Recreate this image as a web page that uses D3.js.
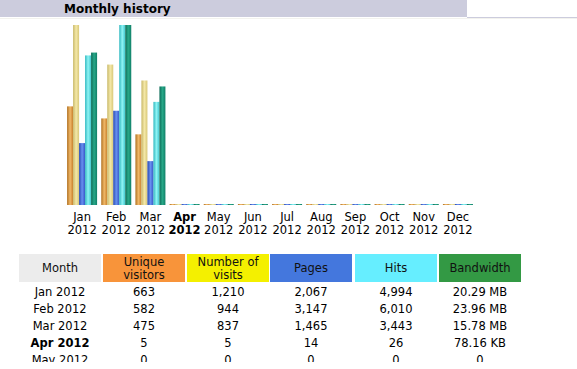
<!DOCTYPE html>
<html><head><meta charset="utf-8">
<script src="https://cdn.jsdelivr.net/npm/d3@7/dist/d3.min.js"></script>
<style>
html,body{margin:0;padding:0;background:#fff;overflow:hidden;}
svg{display:block;}
</style></head>
<body>
<script>
const months = ["Jan","Feb","Mar","Apr","May","Jun","Jul","Aug","Sep","Oct","Nov","Dec"];
const year = "2012";
const currentMonth = "Apr";
const uniqueVisitors = [663,582,475,5,0,0,0,0,0,0,0,0];
const visits = [1210,944,837,5,0,0,0,0,0,0,0,0];
const pages = [2067,3147,1465,14,0,0,0,0,0,0,0,0];
const hits = [4994,6010,3443,26,0,0,0,0,0,0,0,0];
const bandwidthMB = [20.29,23.96,15.78,78.16/1024,0,0,0,0,0,0,0,0];
const headers = ["Month","Unique|visitors","Number of|visits","Pages","Hits","Bandwidth"];
const tableRows = 5;

const W = 577, H = 369;
const svg = d3.select("body").append("svg").attr("width", W).attr("height", H);
const font = "'DejaVu Sans', Verdana, sans-serif";

// title band
svg.append("rect").attr("x",0).attr("y",0).attr("width",467).attr("height",17).attr("fill","#ccccdd");
svg.append("line").attr("x1",467).attr("x2",577).attr("y1",17.5).attr("y2",17.5).attr("stroke","#ccccdd");
svg.append("line").attr("x1",0).attr("x2",577).attr("y1",18.5).attr("y2",18.5).attr("stroke","#f2f2ee");
svg.append("text").attr("x",64).attr("y",13).attr("font-family",font).attr("font-weight","bold")
  .attr("font-size","12px").attr("fill","#000").text("Monthly history");

// gradients
const defs = svg.append("defs");
const gradColors = {
  u:["#b07020","#f0b868","#c8802c"],
  v:["#c8b868","#f4e8a8","#d8c878"],
  p:["#2848b0","#6890f0","#3858c8"],
  h:["#30b8c0","#90f4f4","#40c8d0"],
  k:["#0c6c58","#28a888","#108068"]
};
Object.entries(gradColors).forEach(([k,c])=>{
  const g = defs.append("linearGradient").attr("id","g"+k).attr("x1","0%").attr("x2","100%").attr("y1","0%").attr("y2","0%");
  g.append("stop").attr("offset","0%").attr("stop-color",c[0]);
  g.append("stop").attr("offset","50%").attr("stop-color",c[1]);
  g.append("stop").attr("offset","100%").attr("stop-color",c[2]);
});
defs.append("clipPath").attr("id","tclip").append("rect").attr("x",0).attr("y",0).attr("width",W).attr("height",362);

const x = d3.scaleBand().domain(months).range([65, 475]).padding(0);
const bottom = 205, maxH = 180;
const yVis = d3.scaleLinear().domain([0, d3.max(visits.concat(uniqueVisitors))]).range([0, maxH]);
const yHits = d3.scaleLinear().domain([0, d3.max(hits.concat(pages))]).range([0, maxH]);
const yBw = d3.scaleLinear().domain([0, d3.max(bandwidthMB)]).range([0, maxH]);

const series = [
  {key:"u", vals:uniqueVisitors, s:yVis},
  {key:"v", vals:visits, s:yVis},
  {key:"p", vals:pages, s:yHits},
  {key:"h", vals:hits, s:yHits},
  {key:"k", vals:bandwidthMB, s:yBw}
];
const barW = 6;
const sub = d3.scaleBand().domain(series.map(d=>d.key)).range([0, barW*series.length]);
series.forEach(se=>{
  svg.append("g").selectAll("rect").data(months).join("rect")
    .attr("x",(m)=>x(m)+(x.bandwidth()-barW*series.length)/2+sub(se.key))
    .attr("width",barW)
    .attr("y",(m,i)=>bottom-Math.max(1,se.s(se.vals[i])))
    .attr("height",(m,i)=>Math.max(1,se.s(se.vals[i])))
    .attr("fill","url(#g"+se.key+")");
});

// month labels
const lab = svg.append("g").attr("font-family",font).attr("font-size","11.5px").attr("fill","#000").attr("text-anchor","middle");
months.forEach(m=>{
  const cx = x(m)+x.bandwidth()/2;
  const bold = m===currentMonth ? "bold" : "normal";
  lab.append("text").attr("x",cx).attr("y",221).attr("font-weight",bold).text(m);
  lab.append("text").attr("x",cx).attr("y",234).attr("font-weight",bold).text(year);
});

// table
const colX = [19,103,187,270,355,439];
const colW = 82;
const headBg = ["#ececec","#f8943a","#f4f000","#4477dd","#66eeff","#339944"];
const tg = svg.append("g").attr("font-family",font).attr("font-size","11.5px").attr("text-anchor","middle").attr("clip-path","url(#tclip)");
headers.forEach((h,i)=>{
  tg.append("rect").attr("x",colX[i]).attr("y",254).attr("width",colW).attr("height",28).attr("fill",headBg[i]);
  const lines = h.split("|");
  lines.forEach((l,j)=>{
    const yy = lines.length===1 ? 272 : 266 + j*13;
    tg.append("text").attr("x",colX[i]+colW/2).attr("y",yy).attr("fill","#111").text(l);
  });
});
const fmt = d3.format(",");
function fmtBw(v){
  if (v===0) return "0";
  if (v<1) return (v*1024).toFixed(2)+" KB";
  return v.toFixed(2)+" MB";
}
const rowY = [296,313,330,347,364];
for (let r=0;r<tableRows;r++){
  const bold = months[r]===currentMonth ? "bold" : "normal";
  const cells = [months[r]+" "+year, fmt(uniqueVisitors[r]), fmt(visits[r]), fmt(pages[r]), fmt(hits[r]), fmtBw(bandwidthMB[r])];
  cells.forEach((c,i)=>{
    tg.append("text").attr("x",colX[i]+colW/2).attr("y",rowY[r]).attr("fill","#000")
      .attr("font-weight", i===0?bold:"normal").text(c);
  });
}
</script>
</body></html>
